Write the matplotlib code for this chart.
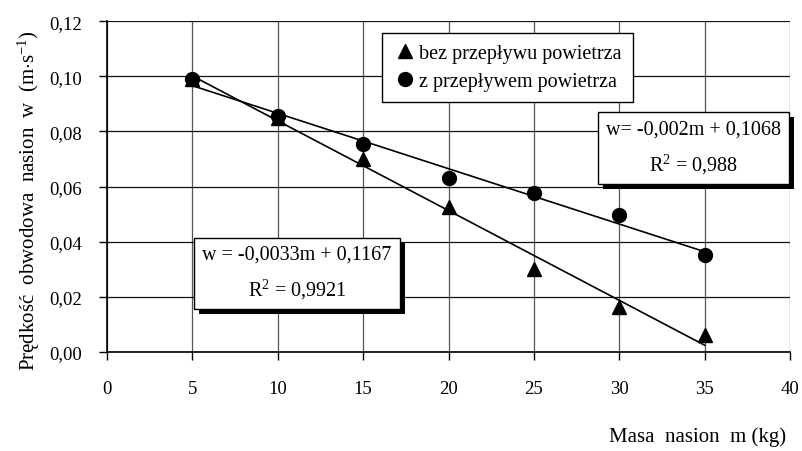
import numpy as np
import matplotlib
matplotlib.use('Agg')
import matplotlib.pyplot as plt
import matplotlib.patheffects as pe
from matplotlib.ticker import FuncFormatter

plt.rcParams['font.family'] = ['Liberation Serif', 'DejaVu Serif']
plt.rcParams['mathtext.fontset'] = 'custom'
plt.rcParams['mathtext.rm'] = 'Liberation Serif'
plt.rcParams['mathtext.it'] = 'Liberation Serif:italic'

# dane
masa = [5, 10, 15, 20, 25, 30, 35]
bez_przeplywu = [0.0990, 0.0850, 0.0700, 0.0525, 0.0302, 0.0162, 0.0062]
z_przeplywem = [0.0990, 0.0855, 0.0755, 0.0630, 0.0575, 0.0497, 0.0352]

x_ticks = [0, 5, 10, 15, 20, 25, 30, 35, 40]
y_ticks = [0.00, 0.02, 0.04, 0.06, 0.08, 0.10, 0.12]

rownanie_bez = 'w = -0,0033m + 0,1167\nR$^2$ = 0,9921'
rownanie_z = 'w= -0,002m + 0,1068\nR$^2$ = 0,988'

fig = plt.figure(figsize=(8.03, 4.52), dpi=100)
ax = fig.add_axes([0.1333, 0.219, 0.8505, 0.732])

# linie trendu
for y in (bez_przeplywu, z_przeplywem):
    a, b = np.polyfit(masa, y, 1)
    xs = np.array([masa[0], masa[-1]])
    ax.plot(xs, a * xs + b, color='black', lw=1.2, zorder=3)

ax.plot(masa, bez_przeplywu, '^', color='black', ms=10, label='bez przepływu powietrza', zorder=4)
ax.plot(masa, z_przeplywem, 'o', color='black', ms=10, label='z przepływem powietrza', zorder=4)

ax.set_xlim(0, 40)
ax.set_ylim(0, 0.12)
ax.set_xticks(x_ticks)
ax.set_yticks(y_ticks)
ax.yaxis.set_major_formatter(FuncFormatter(lambda v, p: f'{v:.2f}'.replace('.', ',')))
ax.tick_params(direction='out', length=6, width=1, labelsize=13.5, colors='black')
ax.tick_params(axis='x', pad=14)
ax.tick_params(axis='y', pad=12)
ax.xaxis.grid(True, color='#555555', lw=0.9)
ax.yaxis.grid(True, color='#111111', lw=0.9)
ax.set_axisbelow(True)
for s in ['top', 'right']:
    ax.spines[s].set_visible(False)
for s in ['left', 'bottom']:
    ax.spines[s].set_linewidth(1.2)

leg = ax.legend(loc='upper left', bbox_to_anchor=(0.388, 0.995), fontsize=14.5,
                frameon=True, fancybox=False, edgecolor='black', framealpha=1,
                handletextpad=0.1, handlelength=1.2, borderpad=0.55, labelspacing=0.45)
leg.get_frame().set_linewidth(1)

shadow = [pe.SimplePatchShadow(offset=(3.6, -3.6), shadow_rgbFace='black', alpha=1), pe.Normal()]
for xy, txt in [((0.278, 0.239), rownanie_bez), ((0.859, 0.618), rownanie_z)]:
    t = ax.text(xy[0], xy[1], txt, transform=ax.transAxes, ha='center', va='center',
                fontsize=14.5, multialignment='center', linespacing=1.7, zorder=6,
                bbox=dict(boxstyle='square,pad=0.4', fc='white', ec='black', lw=1))
    t.get_bbox_patch().set_path_effects(shadow)

ax.set_ylabel('Prędkość  obwodowa  nasion  w  (m$\\cdot$s$^{-1}$)', fontsize=15)
ax.yaxis.set_label_coords(-0.095, 0.46)
fig.text(0.979, 0.033, 'Masa  nasion  m (kg)', ha='right', va='center', fontsize=15)

fig.savefig('out.png', dpi=100)
